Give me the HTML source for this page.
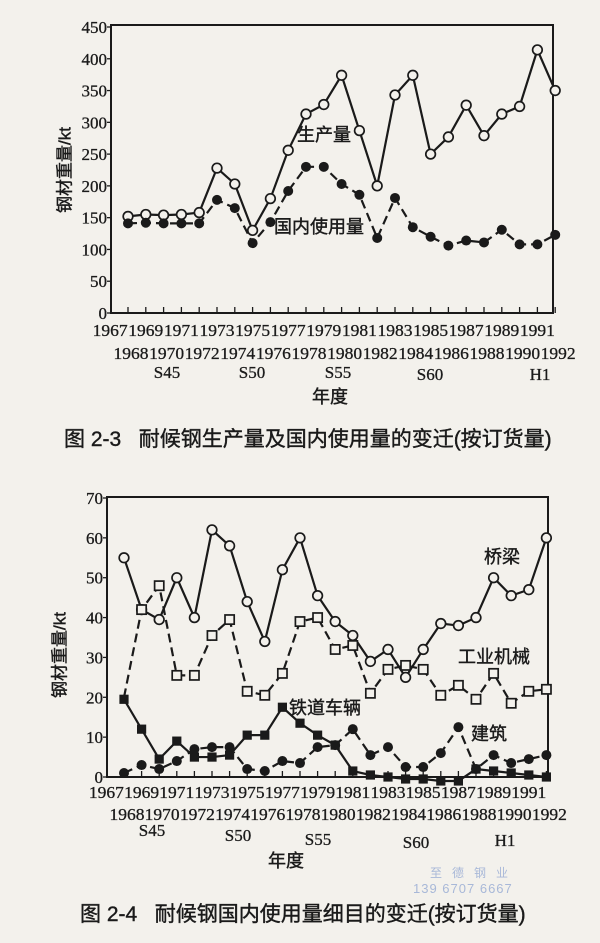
<!DOCTYPE html>
<html><head><meta charset="utf-8"><style>
body{margin:0;background:#f3f1ec;}
svg{display:block}
text{font-family:"Liberation Serif","Noto Serif CJK SC",serif;fill:#1a1a1a;stroke:#1a1a1a;stroke-width:0.3}
</style></head><body>
<svg id="s" width="600" height="943" viewBox="0 0 600 943" xmlns="http://www.w3.org/2000/svg">
<rect width="600" height="943" fill="#f3f1ec"/>
</svg>
<script>
const s=document.getElementById('s');const NS='http://www.w3.org/2000/svg';
function el(t,a,txt){const e=document.createElementNS(NS,t);for(const k in a)e.setAttribute(k,a[k]);if(txt!=null)e.textContent=txt;s.appendChild(e);return e;}
function chart(o){
 const X=y=>o.x0+(y-1968)*o.dx, Y=v=>o.y0-v*o.sy;
 el('rect',{x:o.L,y:o.T,width:o.R-o.L,height:o.y0-o.T,fill:'none',stroke:'#1a1a1a','stroke-width':2});
 for(let i=0;i<=o.ymax;i+=o.ystep){el('line',{x1:o.L-4,x2:o.L,y1:Y(i),y2:Y(i),stroke:'#1a1a1a','stroke-width':1.3});
  el('text',{x:o.L-4,y:Y(i)+6,'text-anchor':'end','font-size':17},i);}
 for(let yr=1968;yr<=1992;yr++){el('line',{x1:X(yr),x2:X(yr),y1:o.y0,y2:o.y0-6,stroke:'#1a1a1a','stroke-width':1.3});}
 for(let yr=1967;yr<=1991;yr+=2)el('text',{x:X(yr),y:o.r1,'text-anchor':'middle','font-size':17,textLength:35,lengthAdjust:'spacingAndGlyphs'},yr);
 for(let yr=1968;yr<=1992;yr+=2)el('text',{x:X(yr)+3,y:o.r2,'text-anchor':'middle','font-size':17,textLength:35,lengthAdjust:'spacingAndGlyphs'},yr);
 o.S.forEach(a=>el('text',{x:a[0],y:a[1],'text-anchor':'middle','font-size':17},a[2]));
 o.series.forEach(sr=>{
  const st=sr.st||0;
  const pts=sr.d.map((v,i)=>X(1968+i)+','+Y(v)).join(' ');
  el('polyline',{points:pts,fill:'none',stroke:'#1a1a1a','stroke-width':2.2,'stroke-dasharray':sr.dash?'9,5':'none'});
  sr.d.forEach((v,i)=>{if(i<st)return;const cx=X(1968+i),cy=Y(v);
   if(sr.m=='oc')el('circle',{cx,cy,r:4.8,fill:'#f3f1ec',stroke:'#1a1a1a','stroke-width':1.7});
   else if(sr.m=='fc')el('circle',{cx,cy,r:5,fill:'#1a1a1a'});
   else if(sr.m=='os')el('rect',{x:cx-4.6,y:cy-4.6,width:9.2,height:9.2,fill:'#f3f1ec',stroke:'#1a1a1a','stroke-width':1.7});
   else el('rect',{x:cx-4.6,y:cy-4.6,width:9.2,height:9.2,fill:'#1a1a1a'});});
 });
}
chart({L:111,R:553,T:25,y0:313,x0:128,dx:17.8,sy:286/450,ymax:450,ystep:50,r1:336,r2:359,
 S:[[167,378,'S45'],[252,378,'S50'],[338,378,'S55'],[430,380,'S60'],[540,380,'H1']],
 series:[
 {m:'oc',d:[152,155,154,155,158,228,203,130,180,256,313,328,374,287,200,343,374,250,277,327,279,313,325,414,350]},
 {m:'fc',dash:1,d:[141,142,141,141,141,178,165,110,143,192,230,230,203,186,118,181,135,120,106,114,111,131,108,108,123]}]});
chart({L:107,R:548,T:497,y0:777,x0:124,dx:17.6,sy:279/70,ymax:70,ystep:10,r1:798,r2:820,
 S:[[152,836,'S45'],[238,841,'S50'],[318,845,'S55'],[416,848,'S60'],[505,846,'H1']],
 series:[
 {m:'oc',d:[55,42,39.5,50,40,62,58,44,34,52,60,45.5,39,35.5,29,32,25,32,38.5,38,40,50,45.5,47,60]},
 {m:'os',dash:1,st:1,d:[20,42,48,25.5,25.5,35.5,39.5,21.5,20.5,26,39,40,32,33,21,27,28,27,20.5,23,19.5,26,18.5,21.5,22]},
 {m:'fs',d:[19.5,12,4.5,9,5,5,5.5,10.5,10.5,17.5,13.5,10.5,8,1.5,0.5,0,-0.5,-0.5,-1,-1,2,1.5,1,0.5,0]},
 {m:'fc',dash:1,d:[1,3,2,4,7,7.5,7.5,2,1.5,4,3.5,7.5,8,12,5.5,7.5,2.5,2.5,6,12.5,2,5.5,3.5,4.5,5.5]}]});
</script>
<div style="position:absolute;left:0;top:0;width:600px;height:943px;pointer-events:none;font-family:'Liberation Sans','Noto Sans CJK SC',sans-serif;color:#1a1a1a;-webkit-text-stroke:0.4px #1a1a1a">
<div style="position:absolute;left:63px;top:170px;transform:translate(-50%,-50%) rotate(-90deg);font-size:17px;white-space:nowrap">钢材重量/kt</div>
<div style="position:absolute;left:58px;top:655px;transform:translate(-50%,-50%) rotate(-90deg);font-size:17px;white-space:nowrap">钢材重量/kt</div>
<div style="position:absolute;left:297px;top:121px;font-size:18px">生产量</div>
<div style="position:absolute;left:274px;top:213px;font-size:18px">国内使用量</div>
<div style="position:absolute;left:312px;top:383px;font-size:18px">年度</div>
<div style="position:absolute;left:64px;top:423px;font-size:21px;white-space:nowrap">图 2-3&nbsp;&nbsp;&nbsp;耐候钢生产量及国内使用量的变迁(按订货量)</div>
<div style="position:absolute;left:484px;top:543px;font-size:18px">桥梁</div>
<div style="position:absolute;left:458px;top:643px;font-size:18px">工业机械</div>
<div style="position:absolute;left:289px;top:694px;font-size:18px">铁道车辆</div>
<div style="position:absolute;left:471px;top:720px;font-size:18px">建筑</div>
<div style="position:absolute;left:268px;top:847px;font-size:18px">年度</div>
<div style="position:absolute;left:430px;top:864px;font-size:12px;color:#a8b8d8;letter-spacing:10px;-webkit-text-stroke:0">至德钢业</div>
<div style="position:absolute;left:413px;top:881px;font-size:13px;color:#a8b8d8;letter-spacing:1px;-webkit-text-stroke:0">139 6707 6667</div>
<div style="position:absolute;left:80px;top:898px;font-size:21px;white-space:nowrap">图 2-4&nbsp;&nbsp;&nbsp;耐候钢国内使用量细目的变迁(按订货量)</div>
</div>
</body></html>
